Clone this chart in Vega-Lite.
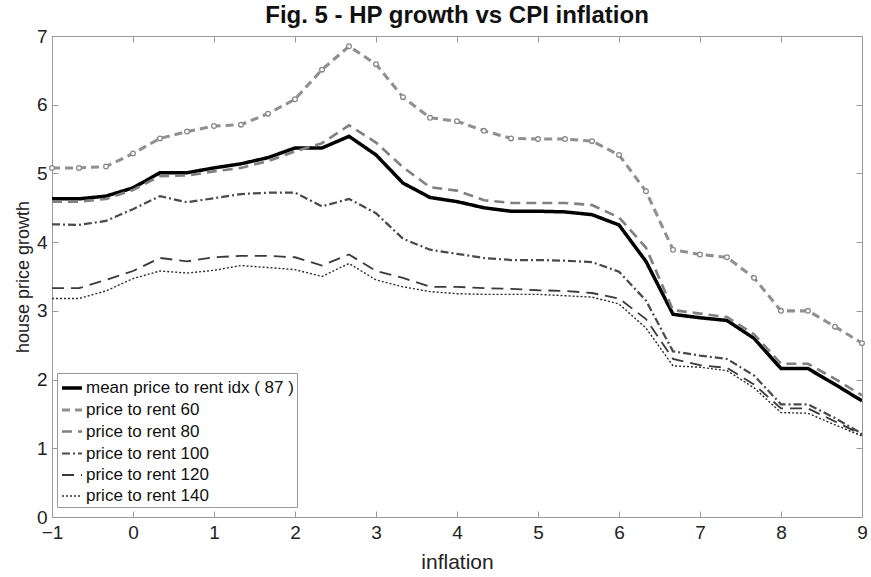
{
  "$schema": "https://vega.github.io/schema/vega-lite/v6.json",
  "width": 810,
  "height": 481,
  "autosize": "none",
  "padding": {"left": 52, "top": 36, "right": 9, "bottom": 60},
  "background": "white",
  "title": {"text": "Fig. 5 - HP growth vs CPI inflation", "font": "Liberation Sans Narrow, Liberation Sans", "fontSize": 24, "fontWeight": "bold", "color": "#111", "offset": -1, "anchor": "middle"},
  "config": {
    "view": {"stroke": "#9a9a9a", "strokeWidth": 1},
    "axis": {"grid": false, "domain": false, "tickColor": "#9a9a9a", "labelColor": "#222", "titleColor": "#222", "labelFont": "Liberation Sans Narrow, Liberation Sans", "titleFont": "Liberation Sans Narrow, Liberation Sans", "labelFontSize": 19, "titleFontSize": 21, "titleFontWeight": "normal"},
    "legend": {"orient": "none", "legendX": 5, "legendY": 337, "fillColor": "white", "strokeColor": "#9a9a9a", "padding": 3, "labelFont": "Liberation Sans", "labelFontSize": 17, "labelColor": "#111", "symbolType": "stroke", "symbolSize": 400, "rowPadding": 2, "labelOffset": 2, "labelLimit": 300}
  },
  "data": {"values": [
    {"x": -1, "mean price to rent idx ( 87 )": 4.63, "price to rent 60": 5.08, "price to rent 80": 4.59, "price to rent 100": 4.26, "price to rent 120": 3.33, "price to rent 140": 3.18},
    {"x": -0.667, "mean price to rent idx ( 87 )": 4.63, "price to rent 60": 5.08, "price to rent 80": 4.59, "price to rent 100": 4.25, "price to rent 120": 3.33, "price to rent 140": 3.18},
    {"x": -0.333, "mean price to rent idx ( 87 )": 4.67, "price to rent 60": 5.10, "price to rent 80": 4.63, "price to rent 100": 4.31, "price to rent 120": 3.45, "price to rent 140": 3.29},
    {"x": 0, "mean price to rent idx ( 87 )": 4.79, "price to rent 60": 5.29, "price to rent 80": 4.76, "price to rent 100": 4.48, "price to rent 120": 3.58, "price to rent 140": 3.47},
    {"x": 0.333, "mean price to rent idx ( 87 )": 5.01, "price to rent 60": 5.51, "price to rent 80": 4.96, "price to rent 100": 4.67, "price to rent 120": 3.77, "price to rent 140": 3.58},
    {"x": 0.667, "mean price to rent idx ( 87 )": 5.01, "price to rent 60": 5.61, "price to rent 80": 4.97, "price to rent 100": 4.58, "price to rent 120": 3.72, "price to rent 140": 3.55},
    {"x": 1, "mean price to rent idx ( 87 )": 5.08, "price to rent 60": 5.69, "price to rent 80": 5.03, "price to rent 100": 4.64, "price to rent 120": 3.78, "price to rent 140": 3.59},
    {"x": 1.333, "mean price to rent idx ( 87 )": 5.14, "price to rent 60": 5.71, "price to rent 80": 5.08, "price to rent 100": 4.70, "price to rent 120": 3.80, "price to rent 140": 3.66},
    {"x": 1.667, "mean price to rent idx ( 87 )": 5.23, "price to rent 60": 5.87, "price to rent 80": 5.18, "price to rent 100": 4.72, "price to rent 120": 3.80, "price to rent 140": 3.63},
    {"x": 2, "mean price to rent idx ( 87 )": 5.37, "price to rent 60": 6.08, "price to rent 80": 5.32, "price to rent 100": 4.72, "price to rent 120": 3.78, "price to rent 140": 3.60},
    {"x": 2.333, "mean price to rent idx ( 87 )": 5.37, "price to rent 60": 6.51, "price to rent 80": 5.44, "price to rent 100": 4.52, "price to rent 120": 3.66, "price to rent 140": 3.50},
    {"x": 2.667, "mean price to rent idx ( 87 )": 5.54, "price to rent 60": 6.85, "price to rent 80": 5.70, "price to rent 100": 4.63, "price to rent 120": 3.82, "price to rent 140": 3.69},
    {"x": 3, "mean price to rent idx ( 87 )": 5.27, "price to rent 60": 6.59, "price to rent 80": 5.45, "price to rent 100": 4.42, "price to rent 120": 3.58, "price to rent 140": 3.45},
    {"x": 3.333, "mean price to rent idx ( 87 )": 4.86, "price to rent 60": 6.11, "price to rent 80": 5.09, "price to rent 100": 4.05, "price to rent 120": 3.48, "price to rent 140": 3.35},
    {"x": 3.667, "mean price to rent idx ( 87 )": 4.65, "price to rent 60": 5.81, "price to rent 80": 4.80, "price to rent 100": 3.89, "price to rent 120": 3.35, "price to rent 140": 3.28},
    {"x": 4, "mean price to rent idx ( 87 )": 4.59, "price to rent 60": 5.76, "price to rent 80": 4.75, "price to rent 100": 3.83, "price to rent 120": 3.35, "price to rent 140": 3.25},
    {"x": 4.333, "mean price to rent idx ( 87 )": 4.50, "price to rent 60": 5.62, "price to rent 80": 4.61, "price to rent 100": 3.77, "price to rent 120": 3.33, "price to rent 140": 3.24},
    {"x": 4.667, "mean price to rent idx ( 87 )": 4.45, "price to rent 60": 5.51, "price to rent 80": 4.57, "price to rent 100": 3.74, "price to rent 120": 3.32, "price to rent 140": 3.24},
    {"x": 5, "mean price to rent idx ( 87 )": 4.45, "price to rent 60": 5.50, "price to rent 80": 4.57, "price to rent 100": 3.74, "price to rent 120": 3.30, "price to rent 140": 3.24},
    {"x": 5.333, "mean price to rent idx ( 87 )": 4.44, "price to rent 60": 5.50, "price to rent 80": 4.57, "price to rent 100": 3.73, "price to rent 120": 3.29, "price to rent 140": 3.22},
    {"x": 5.667, "mean price to rent idx ( 87 )": 4.40, "price to rent 60": 5.47, "price to rent 80": 4.54, "price to rent 100": 3.71, "price to rent 120": 3.26, "price to rent 140": 3.20},
    {"x": 6, "mean price to rent idx ( 87 )": 4.25, "price to rent 60": 5.27, "price to rent 80": 4.36, "price to rent 100": 3.57, "price to rent 120": 3.18, "price to rent 140": 3.10},
    {"x": 6.333, "mean price to rent idx ( 87 )": 3.72, "price to rent 60": 4.74, "price to rent 80": 3.92, "price to rent 100": 3.15, "price to rent 120": 2.88, "price to rent 140": 2.75},
    {"x": 6.667, "mean price to rent idx ( 87 )": 2.95, "price to rent 60": 3.89, "price to rent 80": 3.01, "price to rent 100": 2.41, "price to rent 120": 2.30, "price to rent 140": 2.20},
    {"x": 7, "mean price to rent idx ( 87 )": 2.90, "price to rent 60": 3.82, "price to rent 80": 2.96, "price to rent 100": 2.35, "price to rent 120": 2.21, "price to rent 140": 2.18},
    {"x": 7.333, "mean price to rent idx ( 87 )": 2.86, "price to rent 60": 3.78, "price to rent 80": 2.91, "price to rent 100": 2.30, "price to rent 120": 2.17, "price to rent 140": 2.13},
    {"x": 7.667, "mean price to rent idx ( 87 )": 2.60, "price to rent 60": 3.48, "price to rent 80": 2.66, "price to rent 100": 2.06, "price to rent 120": 1.93, "price to rent 140": 1.88},
    {"x": 8, "mean price to rent idx ( 87 )": 2.16, "price to rent 60": 3.00, "price to rent 80": 2.23, "price to rent 100": 1.64, "price to rent 120": 1.58, "price to rent 140": 1.52},
    {"x": 8.333, "mean price to rent idx ( 87 )": 2.16, "price to rent 60": 3.00, "price to rent 80": 2.23, "price to rent 100": 1.64, "price to rent 120": 1.58, "price to rent 140": 1.51},
    {"x": 8.667, "mean price to rent idx ( 87 )": 1.93, "price to rent 60": 2.77, "price to rent 80": 2.01, "price to rent 100": 1.44, "price to rent 120": 1.39, "price to rent 140": 1.34},
    {"x": 9, "mean price to rent idx ( 87 )": 1.69, "price to rent 60": 2.53, "price to rent 80": 1.77, "price to rent 100": 1.21, "price to rent 120": 1.20, "price to rent 140": 1.18}
  ]},
  "transform": [
    {"fold": ["mean price to rent idx ( 87 )", "price to rent 60", "price to rent 80", "price to rent 100", "price to rent 120", "price to rent 140"], "as": ["series", "value"]}
  ],
  "layer": [
    {
      "mark": {"type": "line", "clip": true},
      "encoding": {
        "x": {"field": "x", "type": "quantitative", "scale": {"domain": [-1, 9], "nice": false, "zero": false}, "axis": {"values": [-1, 0, 1, 2, 3, 4, 5, 6, 7, 8, 9], "title": "inflation", "tickSize": -6, "labelPadding": 12, "titlePadding": 9, "labelFlush": false}},
        "y": {"field": "value", "type": "quantitative", "scale": {"domain": [0, 7], "nice": false}, "axis": {"values": [0, 1, 2, 3, 4, 5, 6, 7], "title": "house price growth", "titleFont": "Liberation Sans", "titleFontSize": 18, "tickSize": -6, "labelPadding": 11, "titlePadding": 4, "labelFlush": false}},
        "color": {"field": "series", "type": "nominal", "scale": {"domain": ["mean price to rent idx ( 87 )", "price to rent 60", "price to rent 80", "price to rent 100", "price to rent 120", "price to rent 140"], "range": ["#000000", "#909090", "#808080", "#4a4a4a", "#3a3a3a", "#2a2a2a"]}, "legend": {"title": null}},
        "strokeDash": {"field": "series", "type": "nominal", "scale": {"domain": ["mean price to rent idx ( 87 )", "price to rent 60", "price to rent 80", "price to rent 100", "price to rent 120", "price to rent 140"], "range": [[1, 0], [8, 5], [10, 6], [8, 3, 2, 3], [12, 7], [2, 2]]}, "legend": {"title": null}},
        "strokeWidth": {"field": "series", "type": "nominal", "scale": {"domain": ["mean price to rent idx ( 87 )", "price to rent 60", "price to rent 80", "price to rent 100", "price to rent 120", "price to rent 140"], "range": [3.5, 1.4, 1.8, 1.8, 2.4, 2.3]}, "legend": {"title": null}}
      }
    },
    {
      "transform": [{"filter": "datum.series == 'price to rent 60'"}],
      "mark": {"type": "point", "shape": "circle", "filled": false, "fill": "white", "color": "#888888", "size": 22, "strokeWidth": 1.3, "opacity": 1},
      "encoding": {
        "x": {"field": "x", "type": "quantitative", "scale": {"domain": [-1, 9], "nice": false, "zero": false}, "axis": null},
        "y": {"field": "value", "type": "quantitative", "scale": {"domain": [0, 7], "nice": false}, "axis": null}
      }
    },
    {
      "mark": {"type": "line", "opacity": 0},
      "encoding": {
        "x": {"field": "x", "type": "quantitative", "scale": {"domain": [-1, 9], "nice": false, "zero": false}, "axis": {"orient": "top", "values": [-1, 0, 1, 2, 3, 4, 5, 6, 7, 8, 9], "labels": false, "title": null, "tickSize": -6}},
        "y": {"field": "value", "type": "quantitative", "scale": {"domain": [0, 7], "nice": false}, "axis": {"orient": "right", "values": [0, 1, 2, 3, 4, 5, 6, 7], "labels": false, "title": null, "tickSize": -6}},
        "detail": {"field": "series"}
      }
    }
  ],
  "resolve": {"scale": {"x": "independent", "y": "independent"}, "axis": {"x": "independent", "y": "independent"}}
}
